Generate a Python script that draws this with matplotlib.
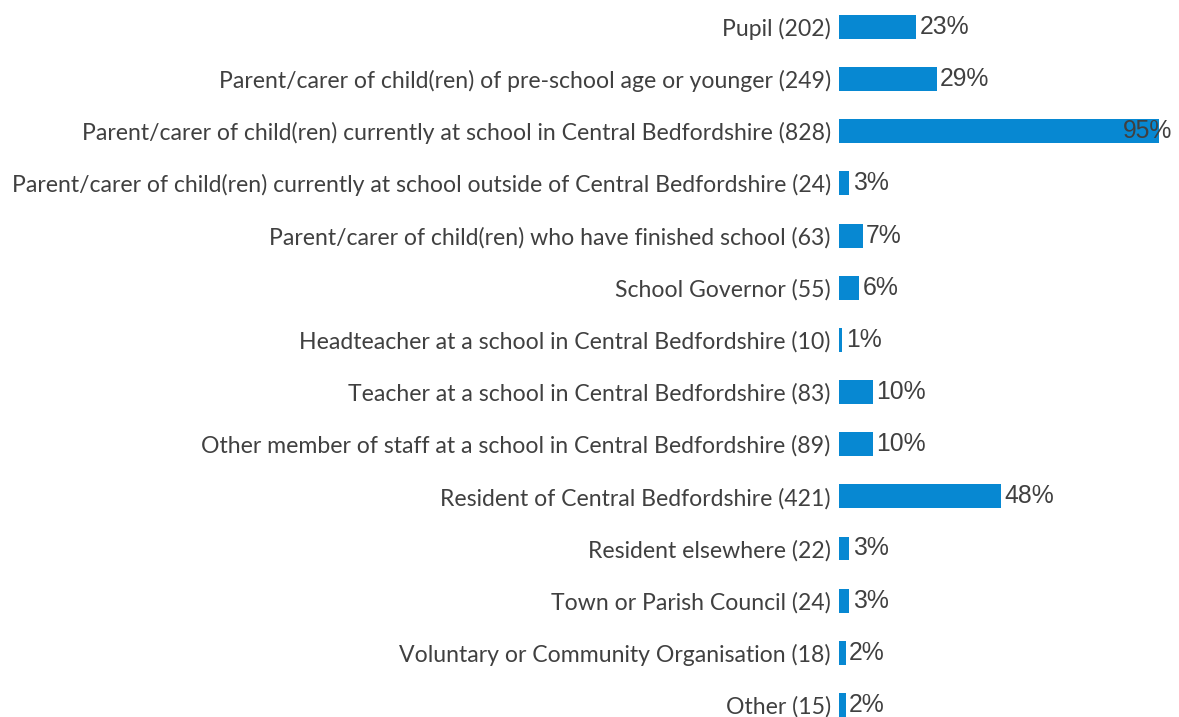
import matplotlib
matplotlib.use("Agg")
import matplotlib.pyplot as plt

categories = [
    "Pupil (202)",
    "Parent/carer of child(ren) of pre-school age or younger (249)",
    "Parent/carer of child(ren) currently at school in Central Bedfordshire (828)",
    "Parent/carer of child(ren) currently at school outside of Central Bedfordshire (24)",
    "Parent/carer of child(ren) who have finished school (63)",
    "School Governor (55)",
    "Headteacher at a school in Central Bedfordshire (10)",
    "Teacher at a school in Central Bedfordshire (83)",
    "Other member of staff at a school in Central Bedfordshire (89)",
    "Resident of Central Bedfordshire (421)",
    "Resident elsewhere (22)",
    "Town or Parish Council (24)",
    "Voluntary or Community Organisation (18)",
    "Other (15)",
]
percentages = [23, 29, 95, 3, 7, 6, 1, 10, 10, 48, 3, 3, 2, 2]

BAR_COLOR = "#0788D2"
TEXT_COLOR = "#404040"

W, H, DPI = 1179, 717, 100
fig = plt.figure(figsize=(W / DPI, H / DPI), dpi=DPI)

# Axes geometry in pixels: bars start at x=839, rows ~52 px apart
left_px, right_px = 839, 1179
row_px = 52.15
top_px = 27 - row_px / 2
height_px = row_px * len(categories)
ax = fig.add_axes([left_px / W, 1 - (top_px + height_px) / H,
                   (right_px - left_px) / W, height_px / H])

px_per_pct = 320 / 95
ax.set_xlim(0, (right_px - left_px) / px_per_pct)
ax.set_ylim(len(categories) - 0.5, -0.5)

y = list(range(len(categories)))
ax.barh(y, percentages, height=0.46, color=BAR_COLOR)

ax.set_yticks(y)
ax.set_yticklabels(categories, fontfamily="Lato", fontsize=16.6, color=TEXT_COLOR)
ax.tick_params(axis="y", length=0, pad=6)
ax.set_xticks([])
for s in ax.spines.values():
    s.set_visible(False)

xmax = ax.get_xlim()[1]
for yi, v in zip(y, percentages):
    label = f"{v}%"
    if v + 15 > xmax:
        ax.annotate(label, xy=(xmax, yi), xytext=(-4.5, 0), textcoords="offset points",
                    ha="right", va="center", fontfamily="Liberation Sans",
                    fontsize=17.8, color=TEXT_COLOR)
    else:
        ax.annotate(label, xy=(v, yi), xytext=(2.5, 0), textcoords="offset points",
                    ha="left", va="center", fontfamily="Liberation Sans",
                    fontsize=17.8, color=TEXT_COLOR)

fig.savefig("out.png", dpi=DPI, facecolor="white")
